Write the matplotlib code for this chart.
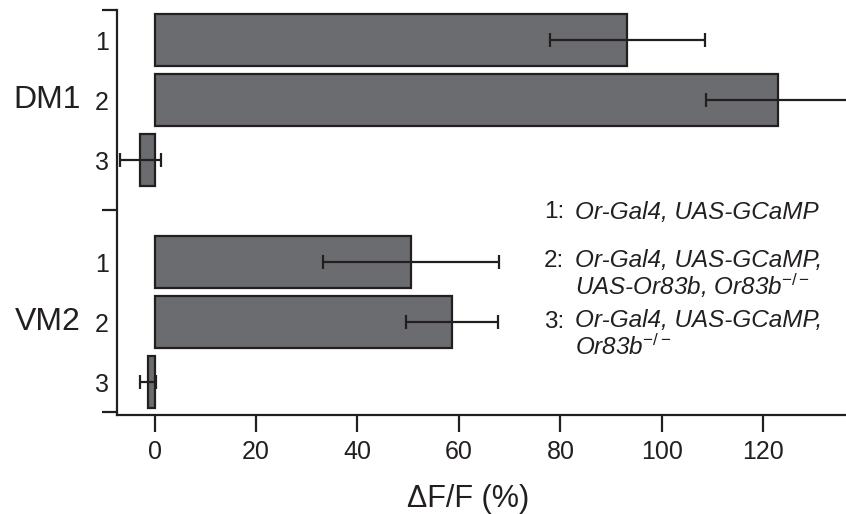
import numpy as np
import matplotlib
matplotlib.use('Agg')
import matplotlib.pyplot as plt
import matplotlib.transforms as mtransforms

# data
groups = ['DM1', 'VM2']
genotypes = ['1', '2', '3']
dm1_mean = [93.2, 122.8, -2.8]
dm1_err = [15.3, 14.0, 4.0]
vm2_mean = [50.6, 58.7, -1.3]
vm2_err = [17.3, 9.1, 1.5]
legend_lines = [
    ('1:', 'Or-Gal4, UAS-GCaMP'),
    ('2:', 'Or-Gal4, UAS-GCaMP,'),
    ('', 'UAS-Or83b, Or83b$^{\\mathit{-/-}}$'),
    ('3:', 'Or-Gal4, UAS-GCaMP,'),
    ('', 'Or83b$^{\\mathit{-/-}}$'),
]

plt.rcParams['font.family'] = ['Liberation Sans', 'DejaVu Sans']
plt.rcParams['mathtext.fontset'] = 'custom'
plt.rcParams['mathtext.rm'] = 'Liberation Sans'
plt.rcParams['mathtext.it'] = 'Liberation Sans:italic'

ink = '#231f20'
bar_col = '#6b6c70'
W, H = 846, 514

fig = plt.figure(figsize=(W / 100, H / 100), dpi=100)
ax = fig.add_axes([117 / W, 1 - 415 / H, 1 - 117 / W, (415 - 10) / H])

pos_dm1 = np.array([0.0, 1.0, 2.0])
pos_vm2 = np.array([3.7, 4.7, 5.7])
means = dm1_mean + vm2_mean
errs = dm1_err + vm2_err
pos = np.concatenate([pos_dm1, pos_vm2])

ax.barh(pos, means, height=0.87, color=bar_col, edgecolor=ink, linewidth=1.6, zorder=2)
ax.errorbar(means, pos, xerr=errs, fmt='none', ecolor=ink, elinewidth=1.6,
            capsize=4.8, capthick=1.6, zorder=3)

ax.set_xlim(-7.4, 136.3)
ax.set_ylim(6.25, -0.5)

ax.set_xticks(np.arange(0, 121, 20))
ax.set_yticks(pos)
ax.set_yticklabels(genotypes * 2)
ax.set_yticks([-0.5, 2.83, 6.2], minor=True)
ax.tick_params(axis='x', direction='out', length=12, width=1.6, colors=ink,
               labelsize=18, pad=6)
ax.tick_params(axis='y', which='major', length=0, labelsize=18, colors=ink, pad=6)
ax.tick_params(axis='y', which='minor', direction='out', length=11, width=1.6, colors=ink)

for s in ['top', 'right']:
    ax.spines[s].set_visible(False)
for s in ['left', 'bottom']:
    ax.spines[s].set_linewidth(1.6)
    ax.spines[s].set_color(ink)

ax.set_xlabel('ΔF/F (%)', fontsize=22, color=ink)
ax.xaxis.set_label_coords((468 - 117) / (W - 117), -0.17)

trans = mtransforms.blended_transform_factory(fig.transFigure, ax.transData)
fig.text(81 / W, pos_dm1[1], groups[0], transform=trans, ha='right', va='center',
         fontsize=23, color=ink)
fig.text(81 / W, pos_vm2[1], groups[1], transform=trans, ha='right', va='center',
         fontsize=23, color=ink)

baselines = [218.5, 267, 295, 327.5, 355]
for (num, gene), yb in zip(legend_lines, baselines):
    if num:
        fig.text(544 / W, 1 - yb / H, num, ha='left', va='baseline', fontsize=17.5, color=ink)
    fig.text(575 / W, 1 - yb / H, gene, ha='left', va='baseline', fontsize=17.5,
             style='italic', color=ink)

fig.savefig('out.png', dpi=100)
